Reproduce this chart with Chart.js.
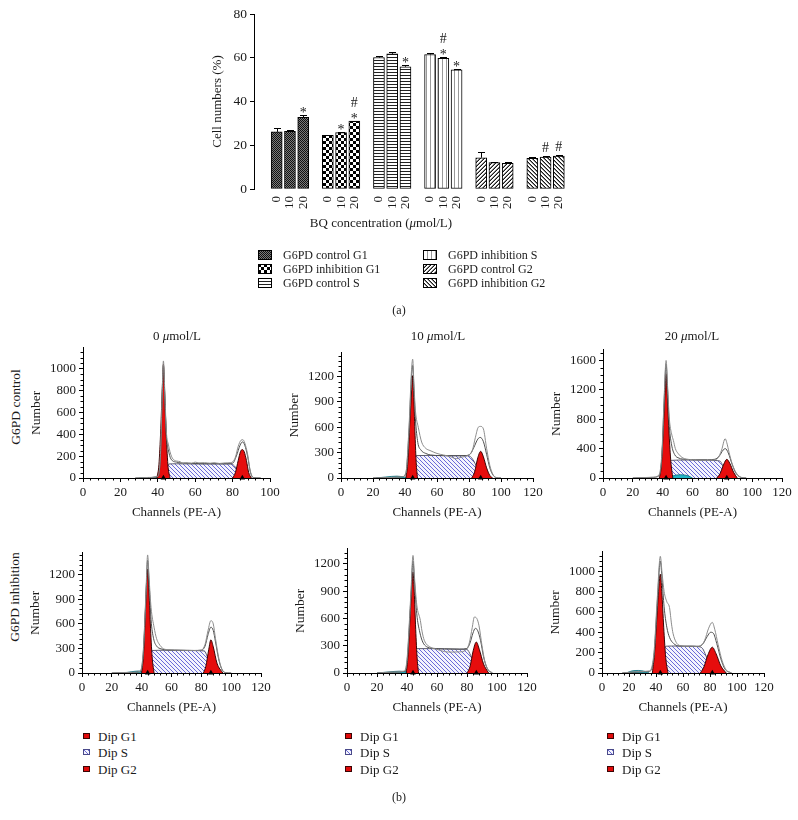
<!DOCTYPE html>
<html><head><meta charset="utf-8">
<script src="https://cdn.jsdelivr.net/npm/chart.js@4"></script>
<style>
html,body{margin:0;padding:0;background:#fff;}
body{width:798px;height:820px;position:relative;overflow:hidden;font-family:"Liberation Serif","DejaVu Serif",serif;color:#1a1a1a;}
canvas{position:absolute;}
.t{position:absolute;white-space:nowrap;line-height:1;font-size:13px;}
</style></head><body>
<script>
// ================= DATA =================
// (a) bar chart: cell cycle distribution (%)
const doseLabels = ['0', '10', '20'];
const barSeriesNames = ['G6PD control G1', 'G6PD inhibition G1', 'G6PD control S', 'G6PD inhibition S', 'G6PD control G2', 'G6PD inhibition G2'];
const ctrlG1 = [26.1, 26.4, 32.8];
const ctrlG1Err = [1.8, 0.4, 1.0];
const inhG1 = [24.5, 25.8, 31.0];
const inhG1Err = [0.3, 0.4, 0.3];
const ctrlS = [60.1, 61.8, 55.9];
const ctrlSErr = [0.8, 0.6, 0.6];
const inhS = [61.5, 59.7, 54.5];
const inhSErr = [0.7, 0.5, 0.5];
const ctrlG2 = [14.3, 12.1, 11.7];
const ctrlG2Err = [2.4, 0.4, 0.8];
const inhG2 = [14.0, 14.6, 15.0];
const inhG2Err = [0.5, 0.3, 0.4];
const ctrlG1Sig = ['', '', '*'];
const inhG1Sig = ['', '*', '*#'];
const ctrlSSig = ['', '', '*'];
const inhSSig = ['', '*#', '*'];
const ctrlG2Sig = ['', '', ''];
const inhG2Sig = ['', '#', '#'];
const barYTicks = [0, 20, 40, 60, 80];

// (b) flow cytometry histograms: [channel, count]
const histTitles = ['0 \u03bcmol/L', '10 \u03bcmol/L', '20 \u03bcmol/L'];
const rowLabels = ['G6PD control', 'G6PD inhibition'];
const histXMax = [100, 120, 120, 120, 120, 120];
const histYMax = [1190, 1480, 1745, 1470, 1365, 1190];
const histYStep = [200, 300, 400, 300, 300, 200];
const histYMinor = [50, 60, 100, 60, 60, 50];
const histLegend = ['Dip G1', 'Dip S', 'Dip G2'];

// control, 0
const p1G1 = [[39.5,0],[40.6,120],[41.6,450],[42.4,820],[43,1040],[43.6,820],[44.4,450],[45.4,120],[46.5,0]];
const p1S = [[42.5,0],[44.5,90],[46,128],[50,130],[60,128],[70,127],[79,127],[81,110],[83,50],[84.5,0]];
const p1G2 = [[80,0],[81.5,50],[83,160],[84.2,240],[85.2,260],[86.2,240],[87.4,160],[88.6,50],[90,0]];
const p1Raw = [[28,0],[35,5],[40,15],[41.5,250],[42.3,750],[43,1070],[43.8,760],[44.6,420],[45.6,310],[47.4,195],[50,155],[52,150],[53,135],[55,140],[58,135],[60,145],[62,138],[65,140],[68,135],[70,140],[73,133],[76,138],[79,140],[81.5,190],[83,290],[84.5,345],[85.5,350],[86.5,320],[88,220],[89.5,60],[91,5],[95,0]];
const p1Fit = [[28,0],[40,12],[41.5,220],[42.3,700],[43,1030],[43.8,700],[44.6,380],[45.6,260],[47,175],[50,145],[55,135],[65,132],[75,132],[80,135],[82,200],[84,300],[85.3,330],[86.5,300],[88,200],[89.5,55],[91,5],[95,0]];
const p1Debris = [[30,0],[35,4],[40,6],[43,0]];
const p1Peaks = [43, 85.2];
// control, 10
const p2G1 = [[40.6,0],[41.8,200],[43,650],[44.2,1050],[44.8,1210],[45.5,950],[46.3,500],[47,180],[47.8,0]];
const p2S = [[41,0],[44,130],[47,265],[55,267],[65,265],[75,265],[80,262],[83,200],[86,80],[88,0]];
const p2G2 = [[81.7,0],[83.5,70],[85.5,240],[87.3,315],[89,250],[91,120],[93,30],[94.8,0]];
const p2Raw = [[20,0],[30,5],[38,15],[40.5,60],[42.5,600],[44,1250],[44.8,1405],[45.6,1100],[46.5,800],[48.3,600],[50.4,425],[53,350],[55.6,325],[58,305],[60,290],[64,272],[68,255],[72,228],[75,245],[79,265],[82,320],[84,480],[85.8,600],[87.2,610],[89,580],[91,350],[93,150],[95,40],[97,5],[100,0]];
const p2Fit = [[20,0],[38,12],[40.5,50],[42.5,550],[44,1180],[44.8,1330],[45.6,1050],[46.5,700],[48,420],[50,330],[53,290],[56,272],[62,265],[70,262],[78,265],[81,290],[83,360],[85.5,460],[87,480],[89,430],[91,280],[93,120],[95,35],[97,5],[100,0]];
const p2Debris = [[22,0],[28,12],[35,22],[40,10],[43,0]];
const p2Peaks = [44.8, 87.3];
// control, 20
const p3G1 = [[37.8,0],[39,150],[40.3,600],[41.5,1150],[42.3,1420],[43.2,1100],[44.3,600],[45.5,220],[46.8,0]];
const p3S = [[40,0],[43.5,150],[46,240],[55,245],[65,242],[75,238],[78.5,230],[80,180],[82,80],[84,0]];
const p3G2 = [[76.3,0],[78.5,60],[81,190],[83,254],[85,200],[87.5,80],[90,0]];
const p3Raw = [[20,0],[33,10],[37.5,40],[39.5,350],[41,1100],[42.3,1600],[43.3,1250],[44.5,800],[46,600],[47.2,510],[48.5,400],[50.5,330],[53,280],[56,255],[60,250],[65,245],[70,240],[74,245],[77,270],[79.5,380],[81.9,535],[83,480],[84.5,350],[86.5,200],[89,80],[92,15],[96,0]];
const p3Fit = [[20,0],[33,8],[37.5,30],[39.5,300],[41,1050],[42.3,1550],[43.3,1200],[44.5,700],[46,450],[48,320],[51,270],[55,255],[62,250],[70,248],[75,255],[78,300],[80.5,380],[82,400],[84,340],[86.5,190],[89,70],[92,12],[96,0]];
const p3Debris = [[44,0],[47,30],[52,45],[57,30],[60,0]];
const p3Peaks = [42.3, 83];
// inhibition, 0
const p4G1 = [[40,0],[41.2,220],[42.5,750],[43.4,1150],[44,1270],[44.8,1050],[45.8,600],[47,200],[48.3,0]];
const p4S = [[41,0],[44,140],[47,275],[55,278],[65,276],[75,274],[82,270],[84,200],[86.5,70],[88,0]];
const p4G2 = [[81.4,0],[83,80],[85,290],[86.4,406],[88,320],[90.5,120],[94.4,0]];
const p4Raw = [[20,0],[32,8],[39,20],[41,250],[42.8,950],[44,1444],[45,1150],[46.3,800],[48.3,560],[50,420],[51.5,360],[54.6,297],[58,285],[62,282],[66,280],[70,278],[75,276],[80,280],[82.5,350],[84.5,520],[86.4,640],[88,600],[89.5,420],[91.5,200],[93.5,60],[96,5],[100,0]];
const p4Fit = [[20,0],[32,6],[39,15],[41,220],[42.8,900],[44,1380],[45,1100],[46.3,650],[48,420],[50,330],[53,295],[57,282],[65,278],[75,275],[80,278],[82.5,330],[84.5,470],[86.4,560],[88,520],[89.5,380],[91.5,180],[93.5,55],[96,5],[100,0]];
const p4Debris = [[28,0],[33,15],[38,25],[43,15],[47,0]];
const p4Peaks = [44, 86.4];
// inhibition, 10
const p5G1 = [[39.5,0],[40.7,200],[42,600],[43.3,1000],[44,1110],[44.8,900],[45.8,480],[46.8,150],[47.7,0]];
const p5S = [[40.5,0],[43.5,130],[46,268],[55,268],[65,265],[75,262],[80,258],[82.5,190],[85,70],[87,0]];
const p5G2 = [[80,0],[82,70],[84.2,250],[86.2,340],[88.2,260],[91,100],[94.4,0]];
const p5Raw = [[20,0],[30,10],[38,20],[40,150],[42.5,850],[44,1292],[45,1050],[46.5,750],[48.9,578],[50,460],[51.5,360],[55.5,285],[60,260],[65,235],[70,230],[75,232],[79,250],[81.5,330],[83.5,500],[84.9,615],[86.5,600],[88,520],[90,300],[92,120],[94.5,25],[97,0]];
const p5Fit = [[20,0],[30,8],[38,15],[40,120],[42.5,800],[44,1230],[45,1000],[46.5,650],[48.5,450],[50.5,340],[53,290],[57,272],[65,265],[75,262],[80,270],[82,330],[84,440],[85.5,490],[87,470],[89,360],[91,180],[93.5,50],[97,0]];
const p5Debris = [[20,0],[28,12],[35,20],[42,10],[46,0]];
const p5Peaks = [44, 86.2];
// inhibition, 20
const p6G1 = [[37.3,0],[38.8,180],[40.5,520],[42.3,880],[43.2,970],[44.3,800],[45.7,450],[47.2,150],[48.9,0]];
const p6S = [[39,0],[43,130],[47.5,263],[55,265],[65,263],[72,258],[74.5,240],[77,170],[80,60],[82,0]];
const p6G2 = [[72.9,0],[75.5,60],[78.5,180],[81.7,253],[84.5,190],[88,70],[92,0]];
const p6Raw = [[15,0],[22,10],[28,15],[35,20],[38.5,200],[41,750],[43.2,1146],[44.5,980],[46,800],[48,700],[50,643],[51.5,480],[52.6,390],[55,300],[57.5,270],[62,262],[66,265],[70,262],[73,268],[76,320],[79,440],[81.7,497],[83.5,430],[86,280],[89,120],[92,30],[96,0]];
const p6Fit = [[15,0],[28,10],[35,15],[38.5,170],[41,700],[43.2,1100],[44.5,920],[46,650],[48,450],[50,350],[53,290],[57,265],[65,262],[72,262],[75,290],[78,360],[80.5,400],[82.5,390],[85,290],[88,140],[91,40],[96,0]];
const p6Debris = [[18,0],[22,20],[27,25],[32,15],[35,0]];
const p6Peaks = [43.2, 81.7];

// ================= HELPERS =================
const SERIF = '"Liberation Serif", "DejaVu Serif", serif';
const TXT = '#1a1a1a';
Chart.defaults.font.family = SERIF;
Chart.defaults.color = TXT;

function addText(html, x, y, opt = {}) {
  const d = document.createElement('div');
  d.className = 't';
  d.innerHTML = html;
  if (opt.size) d.style.fontSize = opt.size + 'px';
  d.style.left = x + 'px';
  d.style.top = y + 'px';
  const rot = opt.rot ? ' rotate(' + opt.rot + 'deg)' : '';
  d.style.transform = (opt.left ? 'translate(0,-50%)' : 'translate(-50%,-50%)') + rot;
  document.body.appendChild(d);
  return d;
}

function makePattern(kind) {
  const c = document.createElement('canvas');
  const g = c.getContext('2d');
  const px = (x, y, col) => { g.fillStyle = col; g.fillRect(x, y, 1, 1); };
  if (kind === 'dense') {
    c.width = 2; c.height = 2;
    g.fillStyle = '#7a7a7a'; g.fillRect(0, 0, 2, 2);
    px(0, 0, '#111'); px(1, 1, '#111');
  } else if (kind === 'checker') {
    c.width = 6; c.height = 6;
    g.fillStyle = '#fff'; g.fillRect(0, 0, 6, 6);
    g.fillStyle = '#000'; g.fillRect(0, 0, 3, 3); g.fillRect(3, 3, 3, 3);
  } else if (kind === 'hlines') {
    c.width = 4; c.height = 3;
    g.fillStyle = '#fff'; g.fillRect(0, 0, 4, 3);
    g.fillStyle = '#222'; g.fillRect(0, 0, 4, 1);
  } else if (kind === 'vlines') {
    c.width = 4; c.height = 4;
    g.fillStyle = '#fff'; g.fillRect(0, 0, 4, 4);
    g.fillStyle = '#999'; g.fillRect(0, 0, 1, 4);
  } else if (kind === 'fwd' || kind === 'back') {
    c.width = 4; c.height = 4;
    g.fillStyle = '#fff'; g.fillRect(0, 0, 4, 4);
    for (let x = 0; x < 4; x++) for (let y = 0; y < 4; y++) {
      const k = kind === 'fwd' ? (x + y) % 4 : (x - y + 4) % 4;
      if (k === 0) px(x, y, '#1a1a1a');
      else if (k === 3) px(x, y, '#8a8a8a');
    }
  } else if (kind === 'hatch') {
    c.width = 4; c.height = 4;
    g.fillStyle = '#f4f4fd'; g.fillRect(0, 0, 4, 4);
    for (let i = 0; i < 4; i++) px(i, i, '#6b6bd8');
  }
  return g.createPattern(c, 'repeat');
}

function swatch(x, y, w, h, fill, stroke) {
  const c = document.createElement('canvas');
  c.width = w; c.height = h;
  c.style.left = x + 'px'; c.style.top = y + 'px';
  const g = c.getContext('2d');
  g.fillStyle = fill; g.fillRect(0, 0, w, h);
  g.strokeStyle = stroke; g.lineWidth = 1; g.strokeRect(0.5, 0.5, w - 1, h - 1);
  document.body.appendChild(c);
}

function makeCanvas(left, top, w, h) {
  const c = document.createElement('canvas');
  c.width = w; c.height = h;
  c.style.left = left + 'px'; c.style.top = top + 'px';
  c.style.width = w + 'px'; c.style.height = h + 'px';
  document.body.appendChild(c);
  return c;
}

// ================= (a) BAR CHART =================
const barPatterns = ['dense', 'checker', 'hlines', 'vlines', 'fwd', 'back'].map(makePattern);
const barValues = [ctrlG1, inhG1, ctrlS, inhS, ctrlG2, inhG2];
const barErrors = [ctrlG1Err, inhG1Err, ctrlSErr, inhSErr, ctrlG2Err, inhG2Err];
const barSigs = [ctrlG1Sig, inhG1Sig, ctrlSSig, inhSSig, ctrlG2Sig, inhG2Sig];
const GROUP_STEP = 54 / 14;
const barPositions = [];
barValues.forEach((vals, g) => vals.forEach((v, i) => barPositions.push(g * GROUP_STEP + i)));

const errorBarPlugin = {
  id: 'errbars',
  afterDatasetsDraw(chart) {
    const ctx = chart.ctx, ys = chart.scales.y;
    chart.data.datasets.forEach((ds, di) => {
      const meta = chart.getDatasetMeta(di);
      meta.data.forEach((bar, i) => {
        const yTop = ys.getPixelForValue(ds.data[i].y + ds.errors[i]);
        const bx = Math.round(bar.x) + 0.5;
        const yt = Math.round(yTop) + 0.5;
        ctx.save();
        ctx.strokeStyle = '#000'; ctx.lineWidth = 1;
        ctx.beginPath();
        ctx.moveTo(bx, bar.y); ctx.lineTo(bx, yt);
        ctx.moveTo(bx - 3.5, yt); ctx.lineTo(bx + 3.5, yt);
        ctx.stroke();
        const sig = ds.sig[i];
        ctx.fillStyle = TXT; ctx.font = '14px ' + SERIF;
        ctx.textAlign = 'center'; ctx.textBaseline = 'alphabetic';
        if (sig.includes('*')) ctx.fillText('*', bar.x, yTop + 2);
        if (sig.includes('#')) ctx.fillText('#', bar.x, sig.includes('*') ? yTop - 14 : yTop - 4);
        ctx.restore();
      });
    });
  }
};

(function () {
  const cv = makeCanvas(206, 0, 380, 220);
  new Chart(cv, {
    type: 'bar',
    data: {
      datasets: barValues.map((vals, g) => ({
        label: barSeriesNames[g],
        data: vals.map((v, i) => ({ x: g * GROUP_STEP + i, y: v })),
        errors: barErrors[g],
        sig: barSigs[g],
        backgroundColor: barPatterns[g],
        borderColor: '#000',
        borderWidth: 1,
        borderSkipped: false,
        barThickness: 11,
        grouped: false
      }))
    },
    options: {
      responsive: false, animation: false, devicePixelRatio: 1,
      layout: { padding: { top: 14, right: 6, left: 0, bottom: 0 } },
      plugins: { legend: { display: false }, tooltip: { enabled: false } },
      scales: {
        x: {
          type: 'linear', min: -1.03, max: 22.2,
          afterBuildTicks: s => { s.ticks = barPositions.map(v => ({ value: v })); },
          afterFit: s => { s.height = 31; },
          ticks: {
            autoSkip: false, minRotation: 90, maxRotation: 90, padding: 7,
            font: { size: 13 }, color: TXT,
            callback: (v, i) => doseLabels[i % 3]
          },
          grid: { display: false, drawTicks: false },
          border: { display: false }
        },
        y: {
          min: 0, max: 80,
          afterBuildTicks: s => { s.ticks = barYTicks.map(v => ({ value: v })); },
          afterFit: s => { s.width = 48; },
          ticks: { font: { size: 13.5 }, color: TXT, padding: 3, callback: v => String(v) },
          grid: { drawOnChartArea: false, tickLength: 4, color: '#000' },
          border: { color: '#000', width: 1 },
          title: { display: true, text: 'Cell numbers (%)', font: { size: 13 }, color: TXT, padding: { top: 4, bottom: 4 } }
        }
      }
    },
    plugins: [errorBarPlugin]
  });
})();

addText('BQ concentration (<i>\u03bc</i>mol/L)', 381, 222);
// legend (a)
const legendCol = [[258, 283], [423, 448]];
const legendRowY = [255, 269, 283];
barSeriesNames.forEach((name, k) => {
  const col = Math.floor(k / 3), row = k % 3;
  swatch(legendCol[col][0], legendRowY[row] - 5, 14, 10, barPatterns[k], '#000');
  addText(name, legendCol[col][1], legendRowY[row], { left: true, size: 12 });
});
addText('(a)', 399, 310, { size: 12 });

// ================= (b) HISTOGRAMS =================
const hatch = makePattern('hatch');
const histData = [
  { g1: p1G1, s: p1S, g2: p1G2, raw: p1Raw, fit: p1Fit, deb: p1Debris, peaks: p1Peaks },
  { g1: p2G1, s: p2S, g2: p2G2, raw: p2Raw, fit: p2Fit, deb: p2Debris, peaks: p2Peaks },
  { g1: p3G1, s: p3S, g2: p3G2, raw: p3Raw, fit: p3Fit, deb: p3Debris, peaks: p3Peaks },
  { g1: p4G1, s: p4S, g2: p4G2, raw: p4Raw, fit: p4Fit, deb: p4Debris, peaks: p4Peaks },
  { g1: p5G1, s: p5S, g2: p5G2, raw: p5Raw, fit: p5Fit, deb: p5Debris, peaks: p5Peaks },
  { g1: p6G1, s: p6S, g2: p6G2, raw: p6Raw, fit: p6Fit, deb: p6Debris, peaks: p6Peaks }
];
// plot areas (layout): left, top, right, bottom
const histAreas = [
  [83, 347, 270, 478], [341, 352, 533, 478], [603, 349, 782, 478],
  [82, 552, 261, 673], [347, 548, 527, 673], [602, 551, 764, 673]
];

const minorTicks = {
  id: 'minorTicks',
  afterDraw(chart, args, o) {
    const ctx = chart.ctx, xs = chart.scales.x, ys = chart.scales.y;
    ctx.save(); ctx.strokeStyle = '#000'; ctx.lineWidth = 1; ctx.beginPath();
    for (let v = o.xMinor; v < xs.max - 1e-6; v += o.xMinor) {
      if (Math.abs(v % o.xStep) < 1e-6) continue;
      const p = Math.round(xs.getPixelForValue(v)) + 0.5;
      ctx.moveTo(p, ys.bottom); ctx.lineTo(p, ys.bottom + 2.5);
    }
    for (let v = o.yMinor; v <= ys.max + 1e-6; v += o.yMinor) {
      if (Math.abs(v % o.yStep) < 1e-6) continue;
      const p = Math.round(ys.getPixelForValue(v)) + 0.5;
      ctx.moveTo(xs.left, p); ctx.lineTo(xs.left - 2.5, p);
    }
    ctx.stroke(); ctx.restore();
  }
};

histData.forEach((d, k) => {
  const [L, T, R, B] = histAreas[k];
  const cv = makeCanvas(L - 59, T - 10, R - L + 59 + 14, B + 46 - (T - 10));
  const line = (data, col) => ({ data, borderColor: col, borderWidth: 1, pointRadius: 0, fill: false, cubicInterpolationMode: 'monotone' });
  const yTickVals = [];
  for (let v = 0; v <= histYMax[k]; v += histYStep[k]) yTickVals.push(v);
  const xTickVals = [];
  for (let v = 0; v <= histXMax[k]; v += 20) xTickVals.push(v);
  new Chart(cv, {
    type: 'line',
    data: {
      datasets: [
        line(d.raw, '#8c8c8c'),
        line(d.fit, '#505050'),
        { data: d.peaks.map(x => [x, 0]), showLine: false, pointStyle: 'triangle', pointRadius: 3.2,
          pointBackgroundColor: '#000', pointBorderColor: '#000', pointBorderWidth: 0, clip: false },
        Object.assign(line(d.g1, '#3a0505'), { fill: 'origin', backgroundColor: '#e60d0d' }),
        Object.assign(line(d.g2, '#3a0505'), { fill: 'origin', backgroundColor: '#e60d0d' }),
        Object.assign(line(d.deb, '#0d6b78'), { fill: 'origin', backgroundColor: '#22b4c6', borderWidth: 0.8 }),
        Object.assign(line(d.s, '#5e5e6e'), { fill: 'origin', backgroundColor: hatch })
      ]
    },
    options: {
      responsive: false, animation: false, devicePixelRatio: 1,
      layout: { padding: { top: 10, right: 14, left: 0, bottom: 0 } },
      plugins: {
        legend: { display: false }, tooltip: { enabled: false },
        minorTicks: { xMinor: 4, xStep: 20, yMinor: histYMinor[k], yStep: histYStep[k] }
      },
      scales: {
        x: {
          type: 'linear', min: 0, max: histXMax[k],
          afterBuildTicks: s => { s.ticks = xTickVals.map(v => ({ value: v })); },
          afterFit: s => { s.height = 46; },
          ticks: { autoSkip: false, maxRotation: 0, padding: 3, font: { size: 13 }, color: TXT, callback: v => String(v) },
          grid: { drawOnChartArea: false, tickLength: 4, color: '#000' },
          border: { color: '#000', width: 1 },
          title: { display: true, text: 'Channels (PE-A)', font: { size: 13 }, color: TXT, padding: { top: 4, bottom: 4 } }
        },
        y: {
          type: 'linear', min: 0, max: histYMax[k],
          afterBuildTicks: s => { s.ticks = yTickVals.map(v => ({ value: v })); },
          afterFit: s => { s.width = 59; },
          ticks: { autoSkip: false, padding: 3, font: { size: 13 }, color: TXT, callback: v => String(v) },
          grid: { drawOnChartArea: false, tickLength: 4, color: '#000' },
          border: { color: '#000', width: 1 },
          title: { display: true, text: 'Number', font: { size: 13.5 }, color: TXT, padding: { top: 4, bottom: 4 } }
        }
      }
    },
    plugins: [minorTicks]
  });
});

// titles and row labels
const titleX = [177, 438, 692];
histTitles.forEach((t, i) => addText(t.replace('\u03bc', '<i>\u03bc</i>'), titleX[i], 335));
addText(rowLabels[0], 16, 407, { rot: -90, size: 13.5 });
addText(rowLabels[1], 15, 597, { rot: -90, size: 13.5 });

// histogram legends
const histLegX = [83, 345, 607];
const histLegY = [736, 752, 769];
histLegX.forEach(x => {
  histLegend.forEach((name, r) => {
    swatch(x, histLegY[r] - 3, 7, 6, r === 1 ? hatch : '#e00a0a', r === 1 ? '#4a4a8a' : '#3a0505');
    addText(name, x + 15, histLegY[r], { left: true, size: 13 });
  });
});
addText('(b)', 399, 797, { size: 12 });
</script>
</body></html>
